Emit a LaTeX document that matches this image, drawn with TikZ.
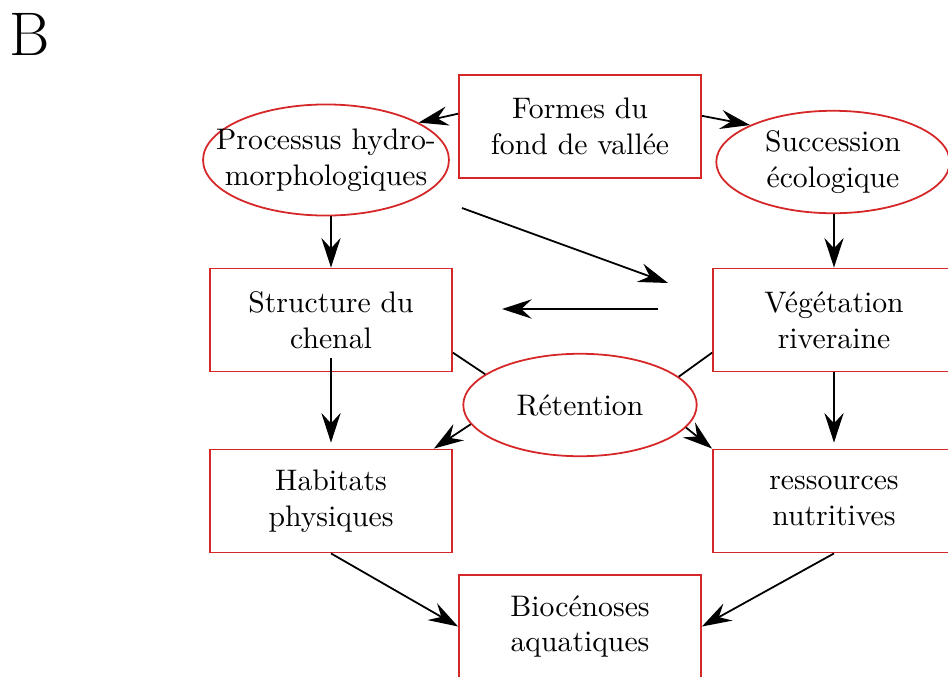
\documentclass[tikz,border=0pt]{standalone}
\usepackage{fontspec}
\usetikzlibrary{shapes.geometric,arrows.meta}
\definecolor{boxred}{RGB}{214,39,40}
\tikzset{
  bloc/.style={rectangle, draw=boxred, semithick, inner sep=0pt,
    minimum width=81.5pt, minimum height=34.7pt, align=center},
  bulle/.style={ellipse, draw=boxred, semithick, inner sep=0pt,
    minimum width=78.6pt, minimum height=34.5pt},
  fl/.style={semithick, -{Stealth[length=10pt,width=6.5pt,inset=3.5pt]}},
  trait/.style={semithick}
}

\begin{document}
\begin{tikzpicture}[x=0.3367pt, y=-0.3367pt]
   \useasboundingbox (0,0) rectangle (948,676);
   \node[anchor=base west, inner sep=0pt, font=\huge] (lettre) at (9,55) {B};
   % cases et bulles
   \node[bloc] (formes) at (580,126.5) {Formes du\\fond de vallée};
   \node[bulle, minimum width=82.8pt, minimum height=37.4pt,
     label={[align=center]center:Processus hydro-\\morphologiques}] (proc) at (326,160) {};
   \node[bulle, label={[align=center]center:Succession\\écologique}] (succ) at (833,162) {};
   \node[bloc] (struc) at (331,320) {Structure du\\chenal};
   \node[bloc] (veg) at (834,320) {Végétation\\riveraine};
   \node[bulle, label={center:Rétention}] (ret) at (580,405) {};
   \node[bloc] (hab) at (331,501) {Habitats\\physiques};
   \node[bloc] (res) at (834,501) {ressources\\nutritives};
   \node[bloc] (bio) at (580,626.5) {Biocénoses\\aquatiques};
   % fleches libres
   \coordinate (diagA) at (462,208);
   \coordinate (diagB) at (668,283);
   \coordinate (horA) at (658,309);
   \coordinate (horB) at (502,309);
   % liaisons
   \draw[fl] (formes.174) -- (proc.22);
   \draw[fl] (formes.5) -- (succ.156);
   \draw[fl] (proc.south -| struc.north) -- (struc.north);
   \draw[fl] (succ.south -| veg.north) -- (veg.north);
   \draw[fl, shorten <=-5pt, shorten >=2pt] (struc.south) -- (hab.north);
   \draw[fl, shorten >=2pt] (veg.south) -- (res.north);
   \draw[fl] (diagA) -- (diagB);
   \draw[fl] (horA) -- (horB);
   \draw[trait] (struc.-15) -- (ret.162);
   \draw[trait] (veg.195) -- (ret.16);
   \draw[fl] (ret.190) -- (hab.27);
   \draw[fl] (ret.348) -- (res.north west);
   \draw[fl] (hab.south) -- (bio.west);
   \draw[fl] (res.south) -- (bio.east);
\end{tikzpicture}
\end{document}
